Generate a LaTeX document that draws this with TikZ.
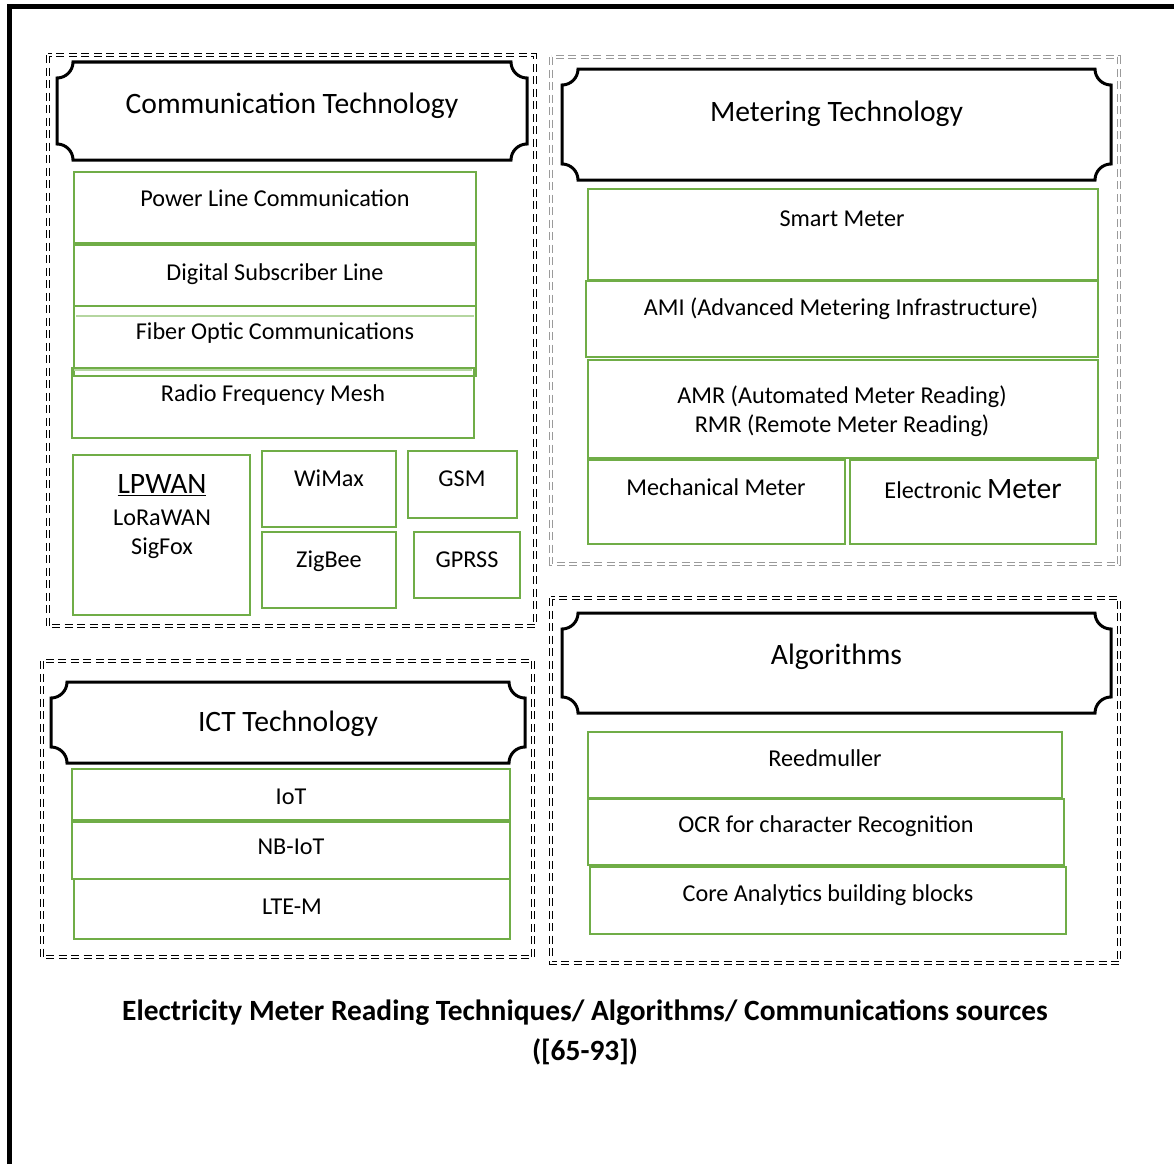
\documentclass[tikz,border=0pt]{standalone}
\usepackage{fontspec}
\setmainfont{Carlito}
\usetikzlibrary{fit}
\definecolor{gr}{HTML}{70AD47}
\definecolor{lgr}{HTML}{B5D6A0}
\definecolor{dgrey}{HTML}{9A9A9A}
\newcommand\rr{16}
\newcommand\kr{8.84}
\newcommand\bannerbox[7]{%
  \draw[bannerline] (#2,#3+\rr) .. controls (#2+\kr,#3+\rr) and (#2+\rr,#3+\kr) .. (#2+\rr,#3)
    -- (#4-\rr,#3) .. controls (#4-\rr,#3+\kr) and (#4-\kr,#3+\rr) .. (#4,#3+\rr)
    -- (#4,#5-\rr) .. controls (#4-\kr,#5-\rr) and (#4-\rr,#5-\kr) .. (#4-\rr,#5)
    -- (#2+\rr,#5) .. controls (#2+\rr,#5-\kr) and (#2+\kr,#5-\rr) .. (#2,#5-\rr) -- cycle;
  \node[bannertext] (#1) at ({(#2+#4)/2},#6) {#7};
}
\newcommand\gbox[5]{\node[gboxst, fit={(#2,#3) (#4,#5)}] (#1) {};}
\tikzset{
  bannerline/.style={draw=black, line width=3pt, fill=white},
  bannertext/.style={font=\fontsize{29.6}{35}\selectfont, inner sep=0, text height=0.64em, text depth=0pt, yshift=-6.5pt},
  gboxst/.style={draw=gr, line width=2.8pt, inner sep=0},
  lbl/.style={font=\fontsize{24.2}{29}\selectfont, inner sep=0, text height=0.64em, text depth=0pt, yshift=-5.5pt},
  big/.style={font=\fontsize{29.6}{35}\selectfont},
  dbox/.style={draw=black, line width=1.7pt, double=white, double distance=1.5pt, dash pattern=on 8pt off 4.5pt},
  ttl/.style={font=\fontsize{29.4}{35}\bfseries\selectfont, inner sep=0, text height=0.64em, text depth=0pt, yshift=-6pt}
}
\begin{document}
\begin{tikzpicture}[x=1pt,y=-1pt]
\useasboundingbox (0,0) rectangle (1174,1164);
% outer frame
\draw[line width=5pt] (9.5,1164) -- (9.5,7) -- (1174,7);
% dashed group frames
\draw[dbox] (48,55) rectangle (535,626);
\draw[dbox, draw=dgrey] (551,57) rectangle (1119,564);
\draw[dbox] (551,598) rectangle (1119,963);
\draw[dbox] (42,661) rectangle (533,957);
% banners
\bannerbox{comm}{57}{62}{527}{160}{104}{Communication Technology}
\bannerbox{meter}{562}{69}{1111}{180}{112}{Metering Technology}
\bannerbox{algo}{562}{613}{1111}{713}{655}{Algorithms}
\bannerbox{ict}{51}{682}{525}{763}{722}{ICT Technology}
% communication technology
\gbox{plc}{74}{172}{476}{243}
\gbox{dsl}{74}{245}{476}{306}
\gbox{foc}{74}{306}{476}{376}
\gbox{rfm}{72}{368}{474}{438}
\draw[lgr, line width=2pt] (76,316) -- (474,316);
\draw[lgr, line width=2pt] (74,370) -- (472,370);
\node[lbl] (plc-t) at (275,198) {Power Line Communication};
\node[lbl] (dsl-t) at (275,272) {Digital Subscriber Line};
\node[lbl] (foc-t) at (275,331) {Fiber Optic Communications};
\node[lbl] (rfm-t) at (273,393) {Radio Frequency Mesh};
\gbox{lpwan}{73}{455}{250}{615}
\gbox{wimax}{262}{451}{396}{527}
\gbox{gsm}{408}{451}{517}{518}
\gbox{zigbee}{262}{532}{396}{608}
\gbox{gprss}{414}{532}{520}{598}
\node[lbl, big] (lpwan-t) at (162,485) {\underline{LPWAN}};
\node[lbl] (lora-t) at (162,517) {LoRaWAN};
\node[lbl] (sigfox-t) at (162,546) {SigFox};
\node[lbl] (wimax-t) at (329,478) {WiMax};
\node[lbl] (gsm-t) at (462,478) {GSM};
\node[lbl] (zigbee-t) at (329,559) {ZigBee};
\node[lbl] (gprss-t) at (467,559) {GPRSS};
% metering technology
\gbox{smart}{588}{189}{1098}{280}
\gbox{ami}{586}{281}{1098}{357}
\gbox{amr}{588}{360}{1098}{458}
\gbox{mech}{588}{460}{845}{544}
\gbox{elec}{850}{460}{1096}{544}
\node[lbl] (smart-t) at (842,218) {Smart Meter};
\node[lbl] (ami-t) at (841,307) {AMI (Advanced Metering Infrastructure)};
\node[lbl] (amr-t) at (842,395) {AMR (Automated Meter Reading)};
\node[lbl] (rmr-t) at (842,424) {RMR (Remote Meter Reading)};
\node[lbl] (mech-t) at (716,487) {Mechanical Meter};
\node[lbl] (elec-t) at (973,490) {Electronic {\fontsize{29.6}{35}\selectfont Meter}};
% algorithms
\gbox{reed}{588}{732}{1062}{798}
\gbox{ocr}{588}{799}{1064}{865}
\gbox{core}{590}{867}{1066}{934}
\node[lbl] (reed-t) at (825,758) {Reedmuller};
\node[lbl] (ocr-t) at (826,824) {OCR for character Recognition};
\node[lbl] (core-t) at (828,893) {Core Analytics building blocks};
% ICT
\gbox{iot}{72}{769}{510}{820}
\gbox{nbiot}{72}{822}{510}{879}
\gbox{ltem}{74}{879}{510}{939}
\node[lbl] (iot-t) at (291,796) {IoT};
\node[lbl] (nbiot-t) at (291,846) {NB-IoT};
\node[lbl] (ltem-t) at (292,906) {LTE-M};
% caption
\node[ttl] (cap1) at (585,1011) {Electricity Meter Reading Techniques/ Algorithms/ Communications sources};
\node[ttl] (cap2) at (585,1051) {([65-93])};
\end{tikzpicture}
\end{document}
